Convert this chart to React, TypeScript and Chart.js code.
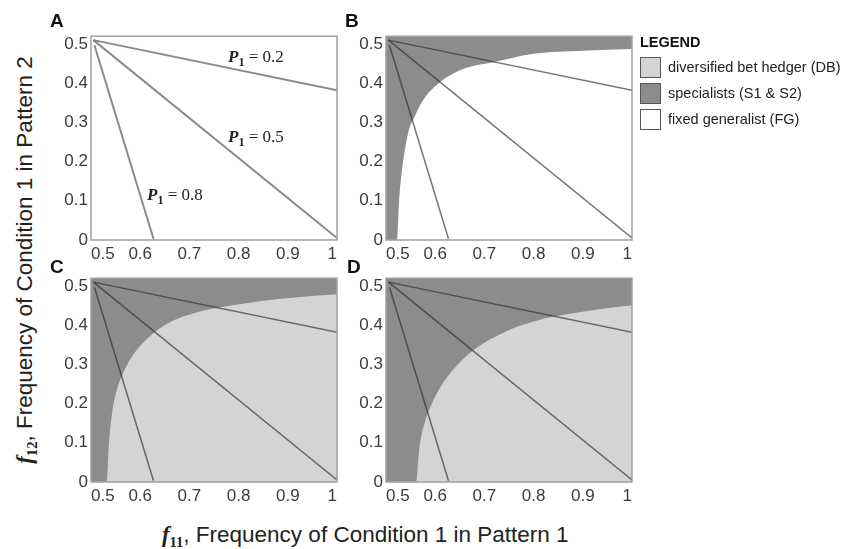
import React, { useEffect, useRef } from 'react';
import { Chart, registerables } from 'chart.js';
Chart.register(...registerables);

// ---- data ----
const xTicks = [0.5, 0.6, 0.7, 0.8, 0.9, 1];
const xTickLabels = ['0.5', '0.6', '0.7', '0.8', '0.9', '1'];
const yTicks = [0, 0.1, 0.2, 0.3, 0.4, 0.5];
const yTickLabels = ['0', '0.1', '0.2', '0.3', '0.4', '0.5'];

const p1Labels = ['0.2', '0.5', '0.8'];
const lineP02X = [0.505, 1];
const lineP02Y = [0.51, 0.382];
const lineP05X = [0.505, 1];
const lineP05Y = [0.51, 0.005];
const lineP08X = [0.507, 0.627];
const lineP08Y = [0.497, 0.003];

// boundary of the specialists region (panel B, C, D)
const boundBX = [0.5, 0.522, 0.527, 0.534, 0.5455, 0.559, 0.576, 0.607, 0.637, 0.671, 0.712, 0.8, 0.9, 1];
const boundBY = [0, 0, 0.108, 0.192, 0.275, 0.317, 0.358, 0.4, 0.425, 0.442, 0.452, 0.475, 0.483, 0.4875];

const boundCX = [0.5, 0.532, 0.536, 0.5425, 0.554, 0.564, 0.581, 0.605, 0.631, 0.665, 0.7125, 0.741, 0.808, 0.876, 0.943, 1];
const boundCY = [0, 0, 0.089, 0.173, 0.241, 0.274, 0.316, 0.354, 0.384, 0.411, 0.432, 0.441, 0.455, 0.466, 0.474, 0.479];

const boundDX = [0.5, 0.561, 0.568, 0.58, 0.593, 0.61, 0.634, 0.671, 0.712, 0.76, 0.8075, 0.828, 0.896, 0.964, 1];
const boundDY = [0, 0, 0.089, 0.157, 0.199, 0.241, 0.283, 0.33, 0.364, 0.393, 0.412, 0.419, 0.434, 0.446, 0.451];

const legendItems = ['diversified bet hedger (DB)', 'specialists (S1 & S2)', 'fixed generalist (FG)'];

// ---- style ----
const DARK = '#8c8c8c';
const LIGHT = '#d4d4d4';
const WHITE = '#ffffff';
const TICK = '#3c3c3c';
const SANS = '"Liberation Sans", Arial, Helvetica, sans-serif';
const SERIF = '"Liberation Serif", "Times New Roman", serif';

const PW = 246;
const PH = 207;
const AXW = 45;
const AXH = 32;
const PADT = 10;
const PADR = 12;

type PanelProps = {
  left: number;
  top: number;
  bx?: number[];
  by?: number[];
  bg: string;
  lineColor: string;
  lineWidth: number;
};

function Panel({ left, top, bx, by, bg, lineColor, lineWidth }: PanelProps) {
  const ref = useRef<HTMLCanvasElement>(null);
  useEffect(() => {
    if (!ref.current) return;
    const toPts = (xs: number[], ys: number[]) => xs.map((x, i) => ({ x, y: ys[i] }));
    const lineDs = (xs: number[], ys: number[]) => ({
      data: toPts(xs, ys),
      borderColor: lineColor,
      borderWidth: lineWidth,
      pointRadius: 0,
      fill: false,
      tension: 0,
      order: 0,
    });
    const datasets: any[] = [
      lineDs(lineP02X, lineP02Y),
      lineDs(lineP05X, lineP05Y),
      lineDs(lineP08X, lineP08Y),
    ];
    if (bx && by) {
      datasets.push({
        data: toPts(bx, by),
        borderColor: 'rgba(0,0,0,0)',
        borderWidth: 0,
        backgroundColor: DARK,
        fill: 'end',
        pointRadius: 0,
        cubicInterpolationMode: 'monotone',
        order: 5,
      });
    }
    const boxPlugin = {
      id: 'boxPlugin',
      beforeDatasetsDraw(chart: any) {
        const { ctx, chartArea: a } = chart;
        ctx.save();
        ctx.fillStyle = bg;
        ctx.fillRect(a.left, a.top, a.right - a.left, a.bottom - a.top);
        ctx.restore();
      },
      afterDatasetsDraw(chart: any) {
        const { ctx, chartArea: a } = chart;
        ctx.save();
        ctx.strokeStyle = '#a0a0a0';
        ctx.lineWidth = 1.5;
        ctx.strokeRect(a.left, a.top, a.right - a.left, a.bottom - a.top);
        ctx.restore();
      },
    };
    const chart = new Chart(ref.current, {
      type: 'line',
      data: { datasets },
      options: {
        responsive: false,
        animation: false,
        layout: { padding: { left: 0, top: PADT, right: PADR, bottom: 0 } },
        plugins: { legend: { display: false }, tooltip: { enabled: false } },
        scales: {
          x: {
            type: 'linear',
            min: 0.5,
            max: 1,
            grid: { display: false, drawTicks: false },
            border: { display: false },
            afterBuildTicks: (s: any) => {
              s.ticks = xTicks.map((v) => ({ value: v }));
            },
            afterFit: (s: any) => {
              s.height = AXH;
            },
            ticks: {
              autoSkip: false,
              maxRotation: 0,
              align: 'inner',
              padding: 4,
              color: TICK,
              font: { family: SANS, size: 17 },
              callback: (_v: any, i: number) => xTickLabels[i],
            },
          },
          y: {
            type: 'linear',
            min: 0,
            max: 0.52,
            grid: { display: false, drawTicks: false },
            border: { display: false },
            afterBuildTicks: (s: any) => {
              s.ticks = yTicks.map((v) => ({ value: v }));
            },
            afterFit: (s: any) => {
              s.width = AXW;
            },
            ticks: {
              autoSkip: false,
              padding: 3,
              color: TICK,
              font: { family: SANS, size: 17 },
              callback: (_v: any, i: number) => yTickLabels[i],
            },
          },
        },
      } as any,
      plugins: [boxPlugin],
    });
    return () => chart.destroy();
  }, []);
  return (
    <canvas
      ref={ref}
      width={AXW + PW + PADR}
      height={PADT + PH + AXH}
      style={{ position: 'absolute', left: left - AXW, top: top - PADT, width: AXW + PW + PADR, height: PADT + PH + AXH }}
    />
  );
}

function P1Label({ left, top, value }: { left: number; top: number; value: string }) {
  return (
    <div style={{ position: 'absolute', left, top, fontFamily: SERIF, fontSize: 17, lineHeight: 1, color: '#222', whiteSpace: 'nowrap' }}>
      <span style={{ fontStyle: 'italic', fontWeight: 'bold' }}>P</span>
      <span style={{ fontWeight: 'bold', fontSize: '0.72em', position: 'relative', top: '0.3em' }}>1</span>
      {' = ' + value}
    </div>
  );
}

function PanelLetter({ left, top, text }: { left: number; top: number; text: string }) {
  return (
    <div style={{ position: 'absolute', left, top, fontFamily: SANS, fontWeight: 'bold', fontSize: 19, lineHeight: 1, color: '#111' }}>
      {text}
    </div>
  );
}

export default function App() {
  const legendColors = [LIGHT, DARK, WHITE];
  return (
    <div style={{ position: 'absolute', left: 0, top: 0, width: 845, height: 549, background: '#fff', overflow: 'hidden' }}>
      <Panel left={91} top={33} bg={WHITE} lineColor="rgba(100,100,100,0.75)" lineWidth={2} />
      <Panel left={386} top={33} bx={boundBX} by={boundBY} bg={WHITE} lineColor="rgba(45,45,45,0.65)" lineWidth={1.5} />
      <Panel left={91} top={275} bx={boundCX} by={boundCY} bg={LIGHT} lineColor="rgba(45,45,45,0.65)" lineWidth={1.5} />
      <Panel left={386} top={275} bx={boundDX} by={boundDY} bg={LIGHT} lineColor="rgba(45,45,45,0.65)" lineWidth={1.5} />

      <P1Label left={228} top={48} value={p1Labels[0]} />
      <P1Label left={228} top={128} value={p1Labels[1]} />
      <P1Label left={147} top={186} value={p1Labels[2]} />

      <PanelLetter left={50} top={11} text="A" />
      <PanelLetter left={345} top={11} text="B" />
      <PanelLetter left={50} top={257} text="C" />
      <PanelLetter left={347} top={257} text="D" />

      <div style={{ position: 'absolute', left: 640, top: 35, fontFamily: SANS, fontWeight: 'bold', fontSize: 14.5, lineHeight: 1, color: '#111' }}>
        LEGEND
      </div>
      {legendItems.map((t, i) => (
        <div key={t} style={{ position: 'absolute', left: 640, top: 56 + i * 26, height: 22, display: 'flex', alignItems: 'center', whiteSpace: 'nowrap' }}>
          <div style={{ width: 21, height: 21, boxSizing: 'border-box', border: '1px solid #555', background: legendColors[i] }} />
          <span style={{ marginLeft: 7, fontFamily: SANS, fontSize: 14.5, color: '#222' }}>{t}</span>
        </div>
      ))}

      <div style={{ position: 'absolute', left: 162, top: 524, fontFamily: SANS, fontSize: 22.5, lineHeight: 1, color: '#222', whiteSpace: 'nowrap' }}>
        <span style={{ fontFamily: SERIF, fontStyle: 'italic', fontWeight: 'bold' }}>f</span>
        <span style={{ fontFamily: SERIF, fontWeight: 'bold', fontSize: '0.65em', position: 'relative', top: '0.35em' }}>11</span>
        , Frequency of Condition 1 in Pattern 1
      </div>
      <div
        style={{
          position: 'absolute',
          left: 25,
          top: 260,
          transform: 'translate(-50%, -50%) rotate(-90deg)',
          fontFamily: SANS,
          fontSize: 22.5,
          lineHeight: 1,
          color: '#222',
          whiteSpace: 'nowrap',
        }}
      >
        <span style={{ fontFamily: SERIF, fontStyle: 'italic', fontWeight: 'bold' }}>f</span>
        <span style={{ fontFamily: SERIF, fontWeight: 'bold', fontSize: '0.65em', position: 'relative', top: '0.35em' }}>12</span>
        , Frequency of Condition 1 in Pattern 2
      </div>
    </div>
  );
}
